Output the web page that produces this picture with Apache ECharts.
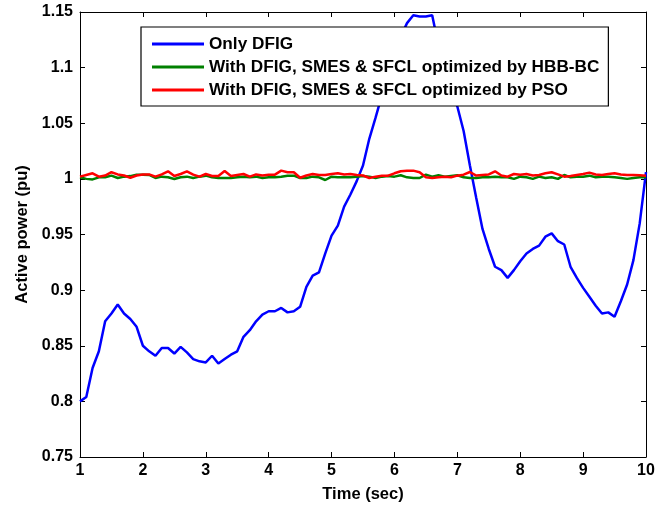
<!DOCTYPE html>
<html>
<head>
<meta charset="utf-8">
<script src="https://cdn.jsdelivr.net/npm/echarts@6/dist/echarts.min.js"></script>
<style>html,body{margin:0;padding:0;background:#fff}#c{width:670px;height:508px}</style>
</head>
<body>
<div id="c"></div>
<script>
// time samples (sec)
const timeStart = 1.0, timeStep = 0.1;
const seriesNames = ["Only DFIG", "With DFIG, SMES & SFCL optimized by HBB-BC", "With DFIG, SMES & SFCL optimized by PSO"];
const onlyDFIG = [
0.800,0.804,0.830,0.845,0.872,0.879,0.887,0.879,0.874,0.867,
0.850,0.845,0.841,0.848,0.848,0.843,0.849,0.844,0.838,0.836,
0.835,0.841,0.834,0.838,0.842,0.845,0.858,0.864,0.872,0.878,
0.881,0.881,0.884,0.880,0.881,0.885,0.903,0.913,0.916,0.933,
0.949,0.958,0.975,0.986,0.998,1.012,1.036,1.055,1.075,1.095,
1.113,1.128,1.140,1.147,1.146,1.146,1.147,1.120,1.100,1.082,
1.065,1.043,1.012,0.983,0.955,0.937,0.921,0.918,0.911,0.918,
0.926,0.933,0.937,0.940,0.948,0.951,0.944,0.941,0.921,0.911,
0.902,0.894,0.886,0.879,0.880,0.876,0.890,0.905,0.927,0.960,
1.006];
const hbbbc = [
1.0014,1.0000,0.9995,1.0014,1.0014,1.0029,1.0008,1.0020,1.0025,1.0038,
1.0038,1.0035,1.0008,1.0020,1.0014,0.9999,1.0014,1.0020,1.0008,1.0020,
1.0029,1.0014,1.0008,1.0008,1.0008,1.0014,1.0020,1.0014,1.0020,1.0008,
1.0014,1.0014,1.0020,1.0029,1.0029,1.0008,1.0008,1.0020,1.0014,0.9990,
1.0020,1.0014,1.0014,1.0014,1.0020,1.0026,1.0020,1.0008,1.0020,1.0026,
1.0020,1.0032,1.0014,1.0008,1.0008,1.0038,1.0020,1.0032,1.0020,1.0026,
1.0032,1.0014,1.0008,1.0008,1.0014,1.0014,1.0020,1.0014,1.0014,1.0000,
1.0020,1.0014,1.0000,1.0020,1.0008,1.0014,1.0000,1.0035,1.0014,1.0020,
1.0020,1.0029,1.0014,1.0020,1.0020,1.0014,1.0008,1.0000,1.0008,1.0014,
1.0014];
const pso = [
1.0020,1.0035,1.0050,1.0020,1.0030,1.0060,1.0040,1.0030,1.0010,1.0030,
1.0040,1.0040,1.0020,1.0040,1.0068,1.0026,1.0044,1.0068,1.0038,1.0020,
1.0044,1.0026,1.0026,1.0070,1.0026,1.0035,1.0044,1.0020,1.0040,1.0030,
1.0038,1.0038,1.0074,1.0060,1.0060,1.0010,1.0030,1.0044,1.0035,1.0035,
1.0044,1.0050,1.0040,1.0044,1.0035,1.0030,1.0008,1.0020,1.0029,1.0029,
1.0050,1.0068,1.0074,1.0074,1.0060,1.0014,1.0008,1.0014,1.0020,1.0014,
1.0029,1.0038,1.0062,1.0030,1.0035,1.0040,1.0068,1.0030,1.0020,1.0044,
1.0038,1.0044,1.0030,1.0035,1.0050,1.0060,1.0040,1.0020,1.0026,1.0035,
1.0044,1.0056,1.0040,1.0035,1.0044,1.0050,1.0040,1.0035,1.0035,1.0032,
1.0029];
const xTicks = [1,2,3,4,5,6,7,8,9,10];
const yTicks = [0.75,0.8,0.85,0.9,0.95,1,1.05,1.1,1.15];

function pairs(arr){ return arr.map((v,i)=>[+(timeStart+i*timeStep).toFixed(2), v]); }

const FONT = '"Liberation Sans", Arial, sans-serif';
const chart = echarts.init(document.getElementById('c'), null, {renderer:'canvas'});
const tickTxt = {color:'#000', fontFamily:FONT, fontWeight:'bold', fontSize:16};
const nameTxt = {color:'#000', fontFamily:FONT, fontWeight:'bold', fontSize:16.5};
const lineC = {lineStyle:{color:'#000', width:1}};
chart.setOption({
  animation:false,
  backgroundColor:'#fff',
  grid:{left:80, right:24, top:12, bottom:49, containLabel:false},
  legend:{
    data:seriesNames, orient:'vertical', left:141, top:27,
    icon:'rect', itemWidth:52, itemHeight:3, itemGap:5,
    padding:[8,9,7,11],
    backgroundColor:'#fff', borderColor:'#000', borderWidth:1.2,
    textStyle:{color:'#000', fontFamily:FONT, fontWeight:'bold', fontSize:17.2, lineHeight:18},
    z:10
  },
  xAxis:[{
    type:'value', min:1, max:10, interval:1, position:'bottom',
    name:'Time (sec)', nameLocation:'middle', nameGap:29,
    nameTextStyle:nameTxt,
    axisLine:{show:true, ...lineC}, axisTick:{show:true, inside:true, length:5, lineStyle:{color:'#000'}},
    axisLabel:{...tickTxt, margin:6, formatter:v=>String(v)}, splitLine:{show:false}
  },{
    type:'value', min:1, max:10, interval:1, position:'top',
    axisLine:{show:true, ...lineC}, axisTick:{show:true, inside:true, length:5, lineStyle:{color:'#000'}},
    axisLabel:{show:false}, splitLine:{show:false}
  }],
  yAxis:[{
    type:'value', min:0.75, max:1.15, interval:0.05, position:'left',
    name:'Active power (pu)', nameLocation:'middle', nameGap:47,
    nameTextStyle:nameTxt,
    axisLine:{show:true, ...lineC}, axisTick:{show:true, inside:true, length:5, lineStyle:{color:'#000'}},
    axisLabel:{...tickTxt, margin:7, formatter:v=>String(+v.toFixed(2))}, splitLine:{show:false}
  },{
    type:'value', min:0.75, max:1.15, interval:0.05, position:'right',
    axisLine:{show:true, ...lineC}, axisTick:{show:true, inside:true, length:5, lineStyle:{color:'#000'}},
    axisLabel:{show:false}, splitLine:{show:false}
  }],
  series:[
    {name:seriesNames[0], type:'line', data:pairs(onlyDFIG), symbol:'none', lineStyle:{color:'#0000ff', width:2.5}, itemStyle:{color:'#0000ff'}, z:2},
    {name:seriesNames[1], type:'line', data:pairs(hbbbc), symbol:'none', lineStyle:{color:'#008000', width:2.5}, itemStyle:{color:'#008000'}, z:3},
    {name:seriesNames[2], type:'line', data:pairs(pso), symbol:'none', lineStyle:{color:'#ff0000', width:2.5}, itemStyle:{color:'#ff0000'}, z:4}
  ]
});
</script>
</body>
</html>
